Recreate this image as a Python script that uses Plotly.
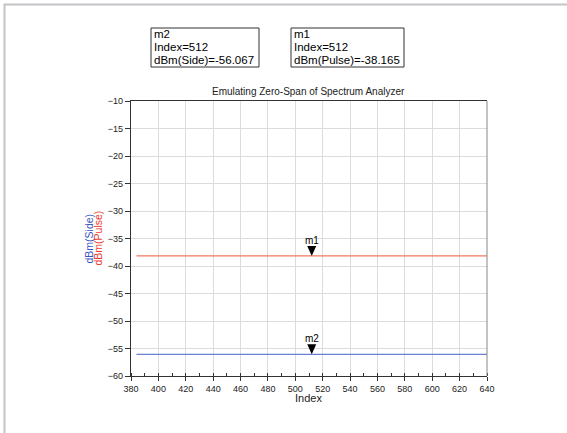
import plotly.graph_objects as go

# Zero-span sweep: readings across sweep index
index_span = [384, 640]
pulse_dbm = [-38.165, -38.165]
side_dbm = [-56.067, -56.067]

# Marker readouts
marker_names = ["m1", "m2"]
marker_index = [512, 512]
marker_values = [-38.165, -56.067]
marker_series = ["dBm(Pulse)", "dBm(Side)"]

x_ticks = list(range(380, 641, 20))
y_ticks = list(range(-60, -9, 5))

W, H = 567, 433
L, R, T, B = 131, 80, 101, 57
pw, ph = W - L - R, H - T - B


def px_x(p):
    return (p - L) / pw


def px_y(p):
    return (H - B - p) / ph


fig = go.Figure()
fig.add_trace(go.Scatter(x=index_span, y=pulse_dbm, mode="lines",
                         line=dict(color="#f07a5c", width=1.2), hoverinfo="skip"))
fig.add_trace(go.Scatter(x=index_span, y=side_dbm, mode="lines",
                         line=dict(color="#6a7fd6", width=1.2), hoverinfo="skip"))

font = "Liberation Sans, Arial, sans-serif"
annotations = []
shapes = []

# Marker triangles and labels
for name, xi, yv in zip(marker_names, marker_index, marker_values):
    shapes.append(dict(type="path", xref="x", yref="y",
                       xsizemode="pixel", ysizemode="pixel",
                       xanchor=xi, yanchor=yv,
                       path="M -4.5 10 L 4.5 10 L 0 0 Z",
                       fillcolor="black", line=dict(color="black", width=0)))
    annotations.append(dict(x=xi, y=yv, xref="x", yref="y", text=name,
                            showarrow=False, xanchor="center", yanchor="bottom", yshift=8,
                            font=dict(family=font, size=10, color="black")))

# Marker readout boxes: frame plus three tightly spaced lines
box_left = {"m2": 151, "m1": 291}
box_right = {"m2": 259, "m1": 404}
for name, xi, yv, ser in zip(marker_names, marker_index, marker_values, marker_series):
    shapes.append(dict(type="rect", xref="paper", yref="paper",
                       x0=px_x(box_left[name]), x1=px_x(box_right[name]),
                       y0=px_y(28), y1=px_y(67),
                       line=dict(color="#333", width=1), fillcolor="white"))
    lines = [name, f"Index={xi}", f"{ser}={yv:.3f}"]
    for k, txt in enumerate(lines):
        annotations.append(dict(
            x=px_x(box_left[name] + 1.5), y=px_y(34 + 13 * k), xref="paper", yref="paper",
            xanchor="left", yanchor="middle", showarrow=False, text=txt, borderpad=0,
            font=dict(family=font, size=11.5, color="black")))

# Title
annotations.append(dict(x=px_x(308.5), y=px_y(91), xref="paper", yref="paper",
                        xanchor="center", yanchor="middle",
                        text="Emulating Zero-Span of Spectrum Analyzer",
                        showarrow=False, font=dict(family=font, size=10, color="#222")))
# Axis titles
annotations.append(dict(x=px_x(88), y=0.5, xref="paper", yref="paper", text="dBm(Side)",
                        xanchor="center", yanchor="middle",
                        textangle=-90, showarrow=False,
                        font=dict(family=font, size=10.5, color="#3a55c4")))
annotations.append(dict(x=px_x(97), y=0.5, xref="paper", yref="paper", text="dBm(Pulse)",
                        xanchor="center", yanchor="middle",
                        textangle=-90, showarrow=False,
                        font=dict(family=font, size=10.5, color="#f03a2a")))
annotations.append(dict(x=px_x(308), y=px_y(398), xref="paper", yref="paper", text="Index",
                        xanchor="center", yanchor="middle",
                        showarrow=False, font=dict(family=font, size=11, color="#222")))

# Right edge of the plot frame and the outer page border
shapes.append(dict(type="line", xref="paper", yref="paper", x0=1, x1=1, y0=0, y1=1,
                   line=dict(color="#888", width=1)))
shapes.append(dict(type="rect", xref="paper", yref="paper",
                   x0=px_x(4.5), x1=px_x(600), y0=px_y(4.5), y1=px_y(460),
                   line=dict(color="#c4c4c8", width=2), layer="below"))

fig.update_layout(
    width=W, height=H,
    margin=dict(l=L, r=R, t=T, b=B),
    paper_bgcolor="white", plot_bgcolor="white",
    showlegend=False,
    annotations=annotations, shapes=shapes,
    xaxis=dict(range=[380, 640], tickvals=x_ticks, showgrid=True, gridcolor="#dcdcdc",
               gridwidth=1, zeroline=False, showline=True, linecolor="#333", linewidth=1.2,
               mirror=True, ticks="outside", ticklen=4, tickcolor="#333",
               tickfont=dict(family=font, size=9, color="#222"),
               minor=dict(dtick=10, tick0=380, ticks="inside", ticklen=3,
                          tickcolor="#333", showgrid=False)),
    yaxis=dict(range=[-60, -10], tickvals=y_ticks, showgrid=True, gridcolor="#dcdcdc",
               gridwidth=1, zeroline=False, showline=True, linecolor="#333", linewidth=1.2,
               ticks="outside", ticklen=5, tickcolor="#333",
               tickfont=dict(family=font, size=9, color="#222")),
)

fig.write_html("out.html")
